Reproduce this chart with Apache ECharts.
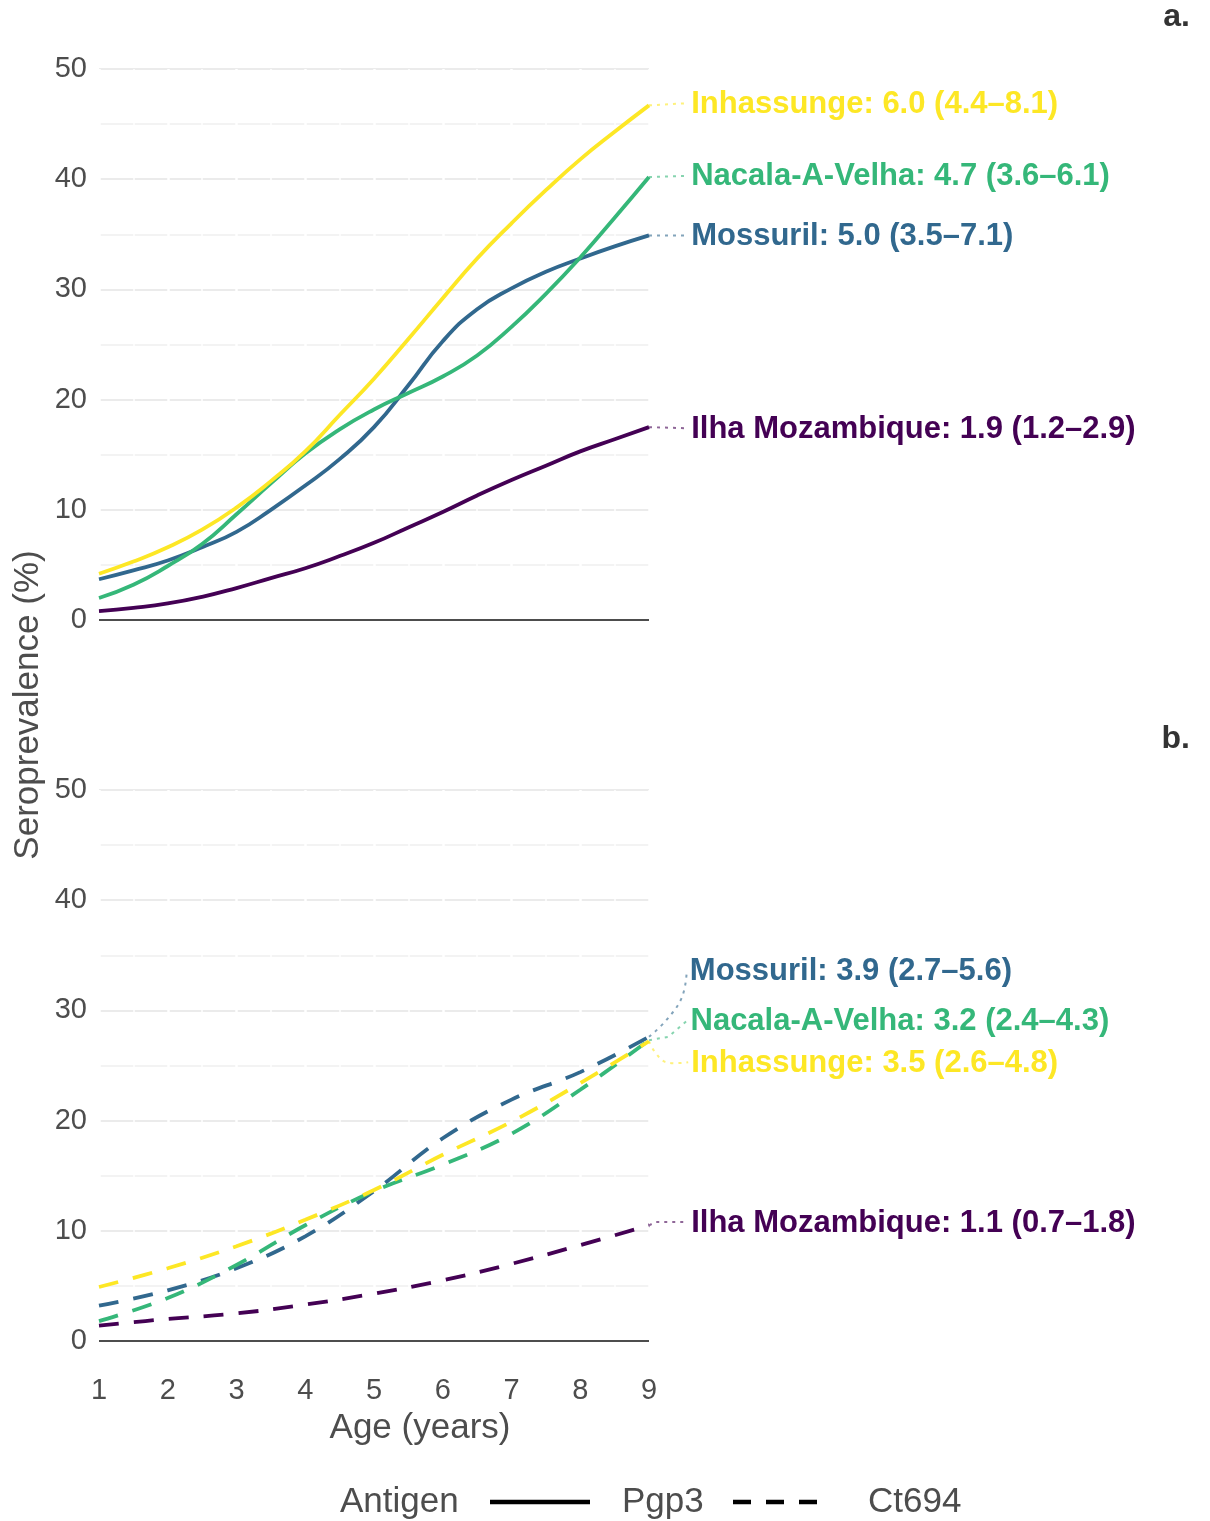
<!DOCTYPE html>
<html>
<head>
<meta charset="utf-8">
<title>Seroprevalence by age</title>
<script src="https://cdn.jsdelivr.net/npm/echarts@6/dist/echarts.min.js"></script>
<style>
  html, body { margin: 0; padding: 0; background: #fff; }
  #chart { width: 1210px; height: 1521px; }
</style>
</head>
<body>
<div id="chart"></div>
<script>
// Ages (years) for the Pgp3 curves (half-year steps) and the Ct694 curves
const pgp3Ages  = [1, 1.5, 2, 2.5, 3, 3.5, 4, 4.5, 5, 5.5, 6, 6.5, 7, 7.5, 8, 8.5, 9];
const ct694Ages = [1, 2, 3, 4, 5, 6, 7, 8, 9];

// Districts, drawn back to front, and their viridis colours
const districts = ['Ilha Mozambique', 'Mossuril', 'Nacala-A-Velha', 'Inhassunge'];
const colors = ['#440154', '#31688E', '#35B779', '#FDE725'];

// Panel a: Pgp3 seroprevalence (%)
const pgp3Ilha       = [0.8, 1.1, 1.5, 2.1, 2.9, 3.8, 4.7, 5.8, 7.0, 8.4, 9.8, 11.3, 12.7, 14.0, 15.3, 16.4, 17.5];
const pgp3Mossuril   = [3.7, 4.5, 5.4, 6.6, 8.0, 10.0, 12.2, 14.6, 17.5, 21.3, 25.3, 28.2, 30.1, 31.6, 32.8, 33.9, 34.9];
const pgp3Nacala     = [2.0, 3.2, 4.9, 6.9, 9.6, 12.4, 15.1, 17.3, 19.1, 20.6, 22.1, 24.0, 26.6, 29.6, 32.9, 36.5, 40.2];
const pgp3Inhassunge = [4.2, 5.3, 6.6, 8.2, 10.2, 12.6, 15.3, 18.6, 21.9, 25.5, 29.2, 32.8, 36.0, 39.0, 41.8, 44.3, 46.7];

// Panel b: Ct694 seroprevalence (%)
const ct694Ilha       = [1.4, 2.0, 2.5, 3.3, 4.3, 5.5, 7.0, 8.7, 10.5];
const ct694Mossuril   = [3.2, 4.6, 6.6, 9.5, 13.6, 18.4, 21.9, 24.4, 27.6];
const ct694Nacala     = [1.8, 3.9, 6.9, 10.5, 13.6, 16.0, 18.8, 22.8, 27.3];
const ct694Inhassunge = [4.9, 6.6, 8.6, 11.0, 13.7, 16.9, 19.9, 23.4, 27.2];

// Seroconversion rate labels (rate and 95% interval)
const pgp3Labels = [
  'Ilha Mozambique: 1.9 (1.2–2.9)',
  'Mossuril: 5.0 (3.5–7.1)',
  'Nacala-A-Velha: 4.7 (3.6–6.1)',
  'Inhassunge: 6.0 (4.4–8.1)'
];
const ct694Labels = [
  'Ilha Mozambique: 1.1 (0.7–1.8)',
  'Mossuril: 3.9 (2.7–5.6)',
  'Nacala-A-Velha: 3.2 (2.4–4.3)',
  'Inhassunge: 3.5 (2.6–4.8)'
];

// Leader paths from each curve end to its label: [age, %] pairs
const pgp3Leaders = [
  [[9, 17.5], [9.57, 17.4]],
  [[9, 34.9], [9.57, 34.9]],
  [[9, 40.2], [9.57, 40.3]],
  [[9, 46.7], [9.57, 46.9]]
];
const ct694Leaders = [
  [[9, 10.5], [9.1, 10.8], [9.57, 10.8]],
  [[9, 27.6], [9.25, 29.1], [9.48, 31.2], [9.55, 33.6]],
  [[9, 27.3], [9.28, 27.6], [9.56, 29.1]],
  [[9, 27.2], [9.1, 26.1], [9.25, 25.3], [9.57, 25.3]]
];

// Y-axis tick values
const yTicks = [0, 10, 20, 30, 40, 50];

const pgp3Series = [pgp3Ilha, pgp3Mossuril, pgp3Nacala, pgp3Inhassunge];
const ct694Series = [ct694Ilha, ct694Mossuril, ct694Nacala, ct694Inhassunge];

const FONT = '"Liberation Sans", Arial, Helvetica, sans-serif';
const GREY = '#4d4d4d';

function hexA(hex, a) {
  const n = parseInt(hex.slice(1), 16);
  return 'rgba(' + (n >> 16 & 255) + ',' + (n >> 8 & 255) + ',' + (n & 255) + ',' + a + ')';
}

function yAxisFor(gridIndex) {
  return {
    type: 'value', gridIndex: gridIndex,
    min: yTicks[0], max: yTicks[yTicks.length - 1], interval: yTicks[1] - yTicks[0],
    z: 0,
    axisLine: { show: false }, axisTick: { show: false },
    axisLabel: { color: GREY, fontSize: 29, fontFamily: FONT, margin: 12 },
    splitLine: { show: true, lineStyle: { color: '#ebebeb', width: 2 } },
    minorTick: { show: false, splitNumber: 2 },
    minorSplitLine: { show: true, lineStyle: { color: '#efefef', width: 1.5 } }
  };
}

function xAxisFor(gridIndex, showLabels) {
  return {
    type: 'value', gridIndex: gridIndex,
    min: ct694Ages[0], max: ct694Ages[ct694Ages.length - 1], interval: 1,
    z: 1,
    axisLine: { show: false }, axisTick: { show: false },
    axisLabel: { show: showLabels, color: GREY, fontSize: 29, fontFamily: FONT, margin: 35 },
    // thin white breaks across the horizontal grid at each half year
    splitLine: { show: true, lineStyle: { color: '#ffffff', width: 2.5 } },
    minorTick: { show: false, splitNumber: 2 },
    minorSplitLine: { show: true, lineStyle: { color: '#ffffff', width: 1.5 } }
  };
}

function panelSeries(xs, valuesList, gridIndex, dashed) {
  return valuesList.map(function (vals, i) {
    const s = {
      type: 'line', name: districts[i],
      xAxisIndex: gridIndex, yAxisIndex: gridIndex,
      data: xs.map(function (a, k) { return [a, vals[k]]; }),
      smooth: dashed ? 0.4 : 0.5, showSymbol: false, symbol: 'none', silent: true,
      lineStyle: dashed
        ? { color: colors[i], width: 3.8, type: [20, 15], cap: 'butt' }
        : { color: colors[i], width: 3.8 },
      z: 3
    };
    if (i === 0) {
      s.markLine = {
        silent: true, symbol: 'none', animation: false,
        label: { show: false },
        lineStyle: { color: GREY, width: 2, type: 'solid' },
        data: [{ yAxis: 0 }]
      };
    }
    return s;
  });
}

const chart = echarts.init(document.getElementById('chart'), null, { renderer: 'canvas' });

const legendY = 1502;
const baseGraphics = [
  { type: 'text', x: 1190, y: 17, style: { text: 'a.', fontSize: 32, fontWeight: 'bold', fontFamily: FONT, fill: '#333', align: 'right', verticalAlign: 'middle' } },
  { type: 'text', x: 1190, y: 739, style: { text: 'b.', fontSize: 32, fontWeight: 'bold', fontFamily: FONT, fill: '#333', align: 'right', verticalAlign: 'middle' } },
  { type: 'text', x: 28, y: 705, rotation: Math.PI / 2, style: { text: 'Seroprevalence (%)', fontSize: 35, fontFamily: FONT, fill: GREY, align: 'center', verticalAlign: 'middle' } },
  { type: 'text', x: 420, y: 1428, style: { text: 'Age (years)', fontSize: 35, fontFamily: FONT, fill: GREY, align: 'center', verticalAlign: 'middle' } },
  // legend: antigen line types
  { type: 'text', x: 340, y: legendY, style: { text: 'Antigen', fontSize: 35, fontFamily: FONT, fill: GREY, align: 'left', verticalAlign: 'middle' } },
  { type: 'line', shape: { x1: 490, y1: legendY, x2: 590, y2: legendY }, style: { stroke: '#000', lineWidth: 4.5 } },
  { type: 'text', x: 622, y: legendY, style: { text: 'Pgp3', fontSize: 35, fontFamily: FONT, fill: GREY, align: 'left', verticalAlign: 'middle' } },
  { type: 'line', shape: { x1: 733, y1: legendY, x2: 828, y2: legendY }, style: { stroke: '#000', lineWidth: 4.5, lineDash: [18, 15] } },
  { type: 'text', x: 868, y: legendY, style: { text: 'Ct694', fontSize: 35, fontFamily: FONT, fill: GREY, align: 'left', verticalAlign: 'middle' } }
];

chart.setOption({
  animation: false,
  backgroundColor: '#ffffff',
  grid: [
    { left: 99, width: 550, top: 69, height: 551 },
    { left: 99, width: 550, top: 790, height: 551 }
  ],
  xAxis: [xAxisFor(0, false), xAxisFor(1, true)],
  yAxis: [yAxisFor(0), yAxisFor(1)],
  series: panelSeries(pgp3Ages, pgp3Series, 0, false)
    .concat(panelSeries(ct694Ages, ct694Series, 1, true)),
  graphic: baseGraphics
});

// Dotted leaders and rate labels, placed through each panel's axes
function leaderGraphics(leaders, labels, gridIndex) {
  const out = [];
  leaders.forEach(function (pts, i) {
    const px = pts.map(function (p) { return chart.convertToPixel({ gridIndex: gridIndex }, p); });
    out.push({
      type: 'polyline', z: 10,
      shape: { points: px, smooth: pts.length > 3 ? 0.4 : 0 },
      style: { stroke: hexA(colors[i], 0.6), lineWidth: 2, lineDash: [3, 5], fill: null }
    });
    const end = px[px.length - 1];
    out.push({
      type: 'text', z: 10, x: end[0] + 3, y: end[1] + 1,
      style: {
        text: labels[i], fill: colors[i], fontSize: 31, fontWeight: 'bold',
        fontFamily: FONT, align: 'left', verticalAlign: 'middle'
      }
    });
  });
  return out;
}

chart.setOption({
  graphic: baseGraphics
    .concat(leaderGraphics(pgp3Leaders, pgp3Labels, 0))
    .concat(leaderGraphics(ct694Leaders, ct694Labels, 1))
}, { replaceMerge: ['graphic'] });
</script>
</body>
</html>
